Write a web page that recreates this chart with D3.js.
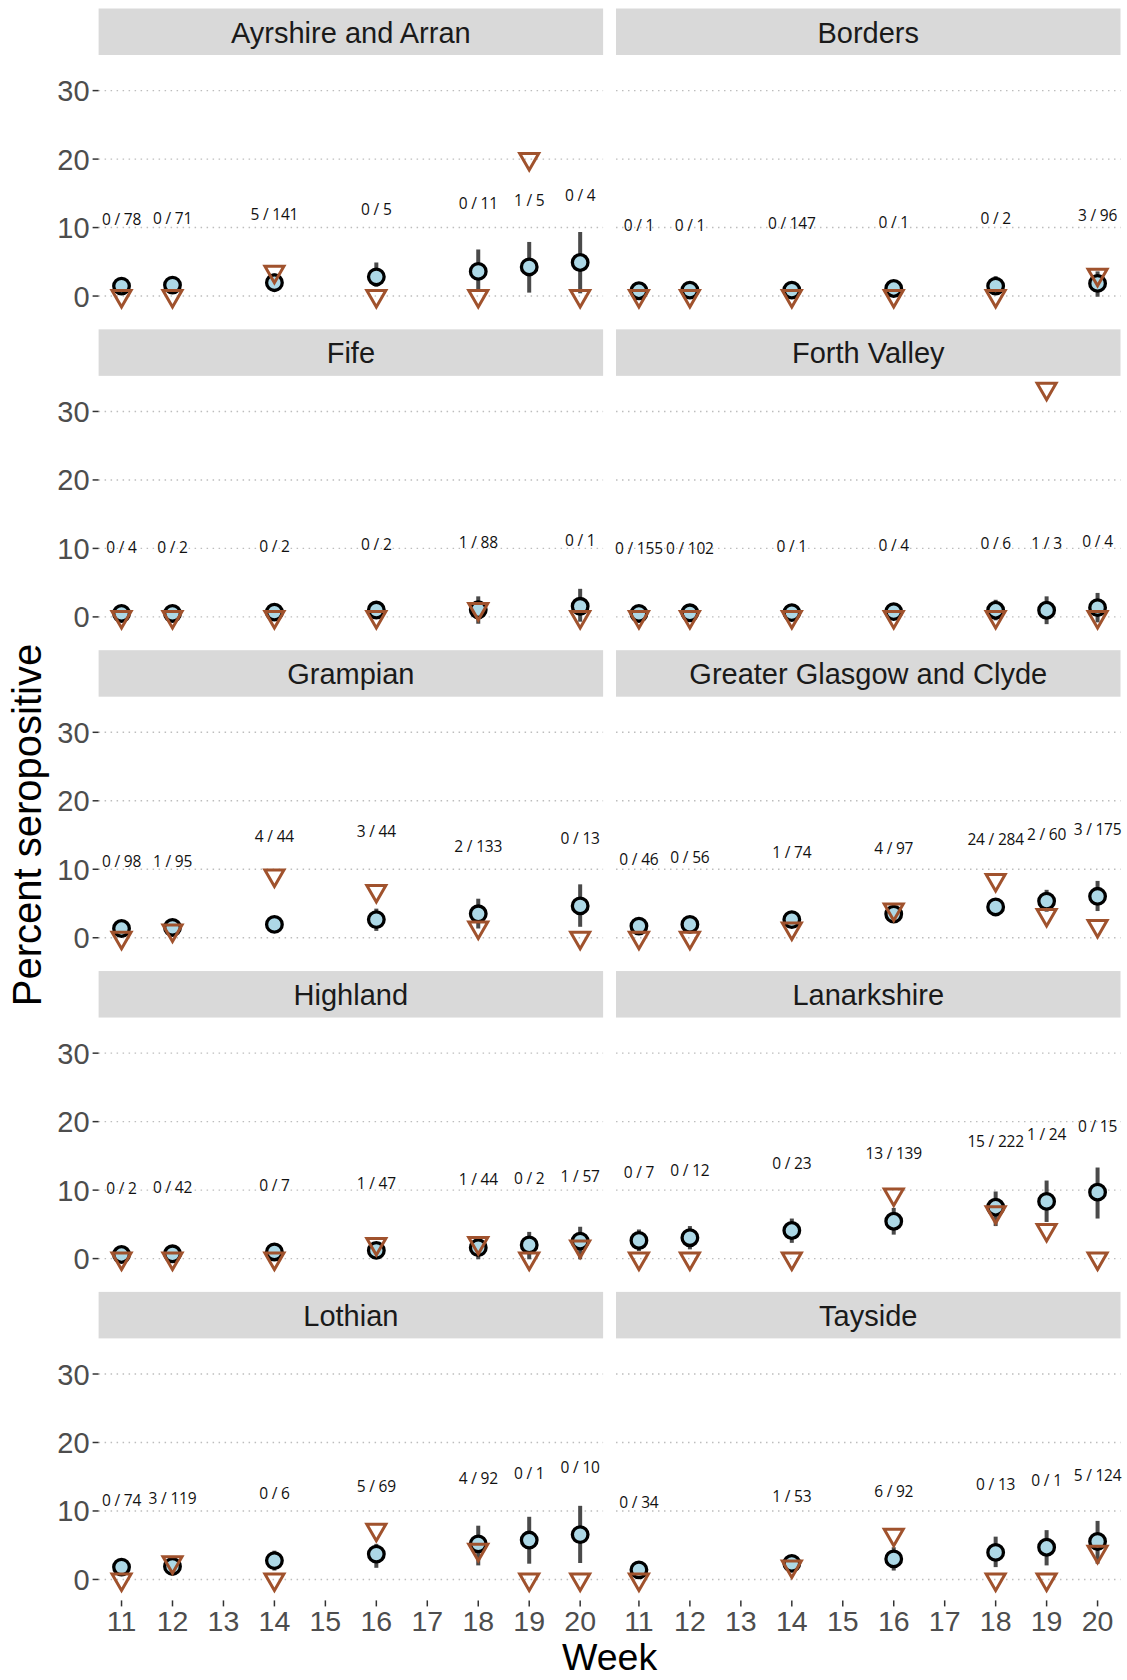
<html>
  <head>
    <script src="https://d3js.org/d3.v7.min.js"></script>
    <style>
      body { margin: 0; background: #fff; }
    </style>
  </head>
  <body>
    <svg id="chart" width="1127" height="1680"></svg>
    <script>
      // health boards, one panel each
      const regions = ["Ayrshire and Arran", "Borders", "Fife", "Forth Valley", "Grampian",
        "Greater Glasgow and Clyde", "Highland", "Lanarkshire", "Lothian", "Tayside"];

      const weeks = [
        [11, 12, 14, 16, 18, 19, 20],
        [11, 12, 14, 16, 18, 20],
        [11, 12, 14, 16, 18, 20],
        [11, 12, 14, 16, 18, 19, 20],
        [11, 12, 14, 16, 18, 20],
        [11, 12, 14, 16, 18, 19, 20],
        [11, 12, 14, 16, 18, 19, 20],
        [11, 12, 14, 16, 18, 19, 20],
        [11, 12, 14, 16, 18, 19, 20],
        [11, 14, 16, 18, 19, 20]
      ];

      const positives = [
        [0, 0, 5, 0, 0, 1, 0],
        [0, 0, 0, 0, 0, 3],
        [0, 0, 0, 0, 1, 0],
        [0, 0, 0, 0, 0, 1, 0],
        [0, 1, 4, 3, 2, 0],
        [0, 0, 1, 4, 24, 2, 3],
        [0, 0, 0, 1, 1, 0, 1],
        [0, 0, 0, 13, 15, 1, 0],
        [0, 3, 0, 5, 4, 0, 0],
        [0, 1, 6, 0, 0, 5]
      ];

      const totals = [
        [78, 71, 141, 5, 11, 5, 4],
        [1, 1, 147, 1, 2, 96],
        [4, 2, 2, 2, 88, 1],
        [155, 102, 1, 4, 6, 3, 4],
        [98, 95, 44, 44, 133, 13],
        [46, 56, 74, 97, 284, 60, 175],
        [2, 42, 7, 47, 44, 2, 57],
        [7, 12, 23, 139, 222, 24, 15],
        [74, 119, 6, 69, 92, 1, 10],
        [34, 53, 92, 13, 1, 124]
      ];

      // modelled estimate (circles) and its interval
      const estimate = [
        [1.45, 1.6, 1.95, 2.8, 3.6, 4.25, 4.9],
        [0.77, 0.87, 0.87, 1.1, 1.45, 1.85],
        [0.5, 0.5, 0.7, 1.0, 1.05, 1.55],
        [0.5, 0.6, 0.63, 0.77, 0.97, 0.97, 1.35],
        [1.35, 1.5, 1.95, 2.65, 3.5, 4.65],
        [1.7, 1.95, 2.65, 3.45, 4.5, 5.35, 6.05],
        [0.6, 0.7, 0.97, 1.2, 1.6, 2.0, 2.55],
        [2.65, 3.05, 4.1, 5.45, 7.5, 8.35, 9.7],
        [1.8, 1.9, 2.75, 3.7, 5.2, 5.75, 6.55],
        [1.4, 2.35, 3.0, 3.95, 4.7, 5.55]
      ];

      const lower = [
        [0.4, 0.5, 0.6, 1.35, 1.0, 0.5, 0.4],
        [0.1, 0.2, 0.2, 0.3, 0.2, -0.1],
        [-0.3, -0.3, -0.2, 0.0, -1.0, -0.7],
        [-0.3, -0.2, -0.2, -0.2, -0.5, -1.06, -0.8],
        [0.4, 0.5, 0.9, 1.0, 1.35, 1.6],
        [0.7, 0.9, 1.6, 2.4, 3.5, 3.8, 3.9],
        [-0.3, -0.2, 0.0, 0.2, -0.1, -0.1, -0.1],
        [1.1, 1.35, 2.3, 3.5, 4.75, 5.35, 5.85],
        [0.8, 0.9, 1.3, 1.7, 2.05, 2.3, 2.4],
        [0.4, 1.3, 1.3, 1.8, 2.05, 2.3]
      ];

      const upper = [
        [2.5, 2.7, 3.3, 4.9, 6.8, 7.9, 9.35],
        [1.5, 1.6, 1.6, 1.9, 2.9, 3.6],
        [1.3, 1.3, 1.6, 2.0, 3.0, 4.1],
        [1.3, 1.4, 1.5, 1.7, 2.5, 3.0, 3.5],
        [2.3, 2.5, 3.0, 4.25, 5.7, 7.8],
        [2.7, 3.0, 3.7, 4.5, 5.5, 7.0, 8.3],
        [1.5, 1.6, 1.9, 2.2, 3.3, 3.9, 4.65],
        [4.25, 4.75, 5.85, 7.4, 9.8, 11.4, 13.3],
        [2.8, 2.9, 4.2, 5.2, 7.85, 9.15, 10.75],
        [2.4, 3.4, 4.7, 6.25, 7.2, 8.55]
      ];

      // height (percent) at which each "k / n" label sits
      const labelY = [
        [11.2, 11.3, 11.85, 12.6, 13.45, 14.0, 14.65],
        [10.3, 10.3, 10.65, 10.8, 11.3, 11.75],
        [10.15, 10.15, 10.3, 10.5, 10.9, 11.1],
        [10.05, 10.05, 10.25, 10.4, 10.65, 10.75, 11.0],
        [11.2, 11.2, 14.75, 15.45, 13.35, 14.55],
        [11.4, 11.65, 12.4, 13.1, 14.3, 15.05, 15.75],
        [10.3, 10.45, 10.7, 11.0, 11.5, 11.65, 12.0],
        [12.6, 12.85, 13.9, 15.4, 17.1, 18.15, 19.35],
        [11.6, 11.85, 12.6, 13.55, 14.75, 15.45, 16.3],
        [11.2, 12.05, 12.8, 13.9, 14.45, 15.2]
      ];

      const xTicks = [11, 12, 13, 14, 15, 16, 17, 18, 19, 20];
      const yTicks = [0, 10, 20, 30];

      const svg = d3.select("#chart");

      // facet layout
      const colLeft = [98.6, 616];
      const panelW = 504.5;
      const stripH = 46.5;
      const panelH = 262;
      const rowTop = (i) => 8.5 + i * 320.85;

      const axisFont = "'Liberation Sans', Arial, sans-serif";

      // triangle (shape 6) centred on its centroid
      const tw = 19, th = 16.5;
      const triPath = `M${-tw / 2},${-th / 3}L${tw / 2},${-th / 3}L0,${(2 * th) / 3}Z`;

      regions.forEach((name, r) => {
        const col = r % 2;
        const row = Math.floor(r / 2);
        const x0 = colLeft[col];
        const top = rowTop(row) + stripH;

        const x = d3.scaleLinear().domain([10.55, 20.45]).range([x0, x0 + panelW]);
        const y = d3.scaleLinear().domain([-3.06, 35.2]).range([top + panelH, top]);

        const g = svg.append("g").attr("class", "panel");

        // strip
        g.append("rect")
          .attr("x", x0)
          .attr("y", rowTop(row))
          .attr("width", panelW)
          .attr("height", stripH)
          .style("fill", "#d9d9d9");

        g.append("text")
          .attr("x", x0 + panelW / 2)
          .attr("y", rowTop(row) + 34)
          .attr("text-anchor", "middle")
          .style("font-family", axisFont)
          .style("font-size", "29px")
          .style("fill", "#1a1a1a")
          .text(name);

        // dotted gridlines
        g.selectAll("line.grid")
          .data(yTicks)
          .join("line")
          .attr("class", "grid")
          .attr("x1", x0)
          .attr("x2", x0 + panelW)
          .attr("y1", (d) => y(d))
          .attr("y2", (d) => y(d))
          .style("stroke", "#bdbdbd")
          .style("stroke-width", 1.4)
          .style("stroke-dasharray", "1.5 4.5");

        // y axis on the left column only
        if (col === 0) {
          g.selectAll("line.ytick")
            .data(yTicks)
            .join("line")
            .attr("class", "ytick")
            .attr("x1", x0 - 6)
            .attr("x2", x0)
            .attr("y1", (d) => y(d))
            .attr("y2", (d) => y(d))
            .style("stroke", "#333")
            .style("stroke-width", 1.5);

          g.selectAll("text.ylab")
            .data(yTicks)
            .join("text")
            .attr("class", "ylab")
            .attr("x", x0 - 9)
            .attr("y", (d) => y(d) + 10.5)
            .attr("text-anchor", "end")
            .style("font-family", axisFont)
            .style("font-size", "29px")
            .style("fill", "#4d4d4d")
            .text((d) => d);
        }

        // x axis on the bottom row only
        if (row === 4) {
          g.selectAll("line.xtick")
            .data(xTicks)
            .join("line")
            .attr("class", "xtick")
            .attr("x1", (d) => x(d))
            .attr("x2", (d) => x(d))
            .attr("y1", top + panelH)
            .attr("y2", top + panelH + 6)
            .style("stroke", "#333")
            .style("stroke-width", 1.5);

          g.selectAll("text.xlab")
            .data(xTicks)
            .join("text")
            .attr("class", "xlab")
            .attr("x", (d) => x(d))
            .attr("y", top + panelH + 31)
            .attr("text-anchor", "middle")
            .style("font-family", axisFont)
            .style("font-size", "28.5px")
            .style("fill", "#4d4d4d")
            .text((d) => d);
        }

        const pts = weeks[r].map((w, i) => ({
          week: w,
          pos: positives[r][i],
          n: totals[r][i],
          raw: (positives[r][i] / totals[r][i]) * 100,
          est: estimate[r][i],
          lo: lower[r][i],
          hi: upper[r][i],
          ly: labelY[r][i]
        }));

        // intervals
        g.selectAll("line.err")
          .data(pts)
          .join("line")
          .attr("class", "err")
          .attr("x1", (d) => x(d.week))
          .attr("x2", (d) => x(d.week))
          .attr("y1", (d) => y(d.lo))
          .attr("y2", (d) => y(d.hi))
          .style("stroke", "#4a4a4a")
          .style("stroke-width", 4);

        // modelled estimate
        g.selectAll("circle.est")
          .data(pts)
          .join("circle")
          .attr("class", "est")
          .attr("cx", (d) => x(d.week))
          .attr("cy", (d) => y(d.est))
          .attr("r", 7.8)
          .style("fill", "#add8e6")
          .style("stroke", "black")
          .style("stroke-width", 3.3);

        // raw percentage
        g.selectAll("path.raw")
          .data(pts)
          .join("path")
          .attr("class", "raw")
          .attr("d", triPath)
          .attr("transform", (d) => `translate(${x(d.week)},${y(d.raw)})`)
          .style("fill", "none")
          .style("stroke", "#a0522d")
          .style("stroke-width", 3)
          .style("stroke-linejoin", "miter");

        // counts
        g.selectAll("text.count")
          .data(pts)
          .join("text")
          .attr("class", "count")
          .attr("x", (d) => x(d.week))
          .attr("y", (d) => y(d.ly) + 5.5)
          .attr("text-anchor", "middle")
          .style("font-family", "'Open Sans', sans-serif")
          .style("font-size", "15.5px")
          .style("letter-spacing", "-0.2px")
          .style("fill", "#111")
          .text((d) => `${d.pos} / ${d.n}`);
      });

      // axis titles
      svg.append("text")
        .attr("x", (colLeft[0] + colLeft[1] + panelW) / 2)
        .attr("y", 1670)
        .attr("text-anchor", "middle")
        .style("font-family", axisFont)
        .style("font-size", "37.5px")
        .style("fill", "black")
        .text("Week");

      svg.append("text")
        .attr("transform", "translate(41,825) rotate(-90)")
        .attr("text-anchor", "middle")
        .style("font-family", axisFont)
        .style("font-size", "40px")
        .style("fill", "black")
        .text("Percent seropositive");
    </script>
  </body>
</html>
